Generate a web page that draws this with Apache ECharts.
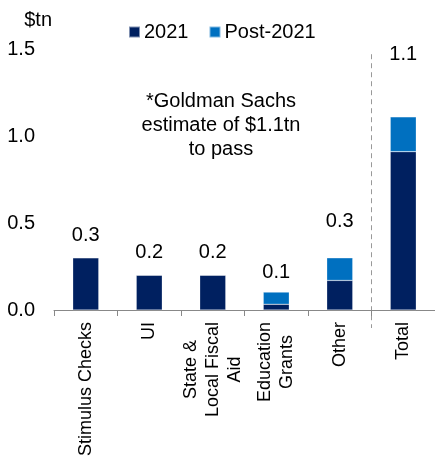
<!DOCTYPE html>
<html>
<head>
<meta charset="utf-8">
<script src="https://cdn.jsdelivr.net/npm/echarts@6/dist/echarts.min.js"></script>
<style>
html,body{margin:0;padding:0;background:#fff;}
#c{width:435px;height:462px;}
</style>
</head>
<body>
<div id="c"></div>
<script>
const categories = ['Stimulus Checks', 'UI', 'State &\nLocal Fiscal\nAid', 'Education\nGrants', 'Other', 'Total'];
const values2021 = [0.30, 0.20, 0.20, 0.033, 0.17, 0.91];
const valuesPost = [0.00, 0.00, 0.00, 0.07, 0.13, 0.20];
const totalLabels = ['0.3', '0.2', '0.2', '0.1', '0.3', '1.1'];
const yTicks = [0, 0.5, 1.0, 1.5];
const seriesNames = ['2021', 'Post-2021'];

const FONT = '"Liberation Sans", Arial, sans-serif';
const DARK = '#002060';
const LIGHT = '#0070C0';
const labelLift = [12, 13, 13, 10, 26, 52];

const chart = echarts.init(document.getElementById('c'), null, {renderer: 'canvas'});
const option = {
  animation: false,
  backgroundColor: '#fff',
  textStyle: {fontFamily: FONT},
  title: {
    text: '*Goldman Sachs\nestimate of $1.1tn\nto pass',
    left: 221, top: 89, padding: 0, textAlign: 'center',
    textStyle: {fontFamily: FONT, fontSize: 20, fontWeight: 'normal', color: '#000', lineHeight: 24}
  },
  legend: {
    data: seriesNames,
    left: 128, top: 22, padding: 0,
    icon: 'rect', itemWidth: 11, itemHeight: 11, itemGap: 20,
    textStyle: {fontFamily: FONT, fontSize: 20, color: '#000', padding: [0, 0, 0, -1]}
  },
  grid: {left: 54, right: -3, top: 49, bottom: 152, containLabel: false},
  xAxis: {
    type: 'category',
    data: categories,
    axisLine: {show: true, lineStyle: {color: '#888', width: 1}},
    axisTick: {show: true, length: 6, inside: false, lineStyle: {color: '#888'}},
    axisLabel: {
      interval: 0, rotate: 90, margin: 12,
      formatter: v => v.split('\n').map(s => '{c|' + s + '}').join('\n'),
      rich: {c: {align: 'center', fontFamily: FONT, fontSize: 18, lineHeight: 22, color: '#000'}}
    }
  },
  yAxis: {
    type: 'value',
    min: yTicks[0], max: yTicks[yTicks.length - 1], interval: yTicks[1] - yTicks[0],
    name: '$tn', nameLocation: 'end', nameGap: 19,
    nameTextStyle: {fontFamily: FONT, fontSize: 20, color: '#000', align: 'right', padding: [0, 2, 0, 0]},
    axisLine: {show: false}, axisTick: {show: false},
    splitLine: {show: false},
    axisLabel: {fontFamily: FONT, fontSize: 20, color: '#000', margin: 19, formatter: v => v.toFixed(1)}
  },
  series: [
    {
      name: seriesNames[0], type: 'bar', stack: 's', barWidth: 26,
      itemStyle: {color: DARK, borderColor: 'rgba(255,255,255,0.5)', borderWidth: 0.5},
      data: values2021
    },
    {
      name: seriesNames[1], type: 'bar', stack: 's', barWidth: 26,
      itemStyle: {color: LIGHT, borderColor: 'rgba(255,255,255,0.5)', borderWidth: 0.5},
      data: valuesPost
    },
    {
      name: 'labels', type: 'bar', stack: 's', barWidth: 26,
      itemStyle: {color: 'rgba(0,0,0,0)'},
      data: totalLabels.map((t, i) => ({
        value: 0,
        label: {show: true, position: 'top', distance: 0, offset: [0, -labelLift[i]],
          formatter: () => t, fontFamily: FONT, fontSize: 20, color: '#000'}
      })),
      silent: true
    }
  ]
};
chart.setOption(option);

const pA = chart.convertToPixel({xAxisIndex: 0, yAxisIndex: 0}, [4, 0]);
const pB = chart.convertToPixel({xAxisIndex: 0, yAxisIndex: 0}, [5, 1.47]);
const xDiv = (pA[0] + pB[0]) / 2;
chart.setOption({
  graphic: [{
    type: 'line', silent: true,
    shape: {x1: xDiv, y1: pB[1], x2: xDiv, y2: pA[1] + 18},
    style: {stroke: '#999', lineWidth: 1, lineDash: [5, 4]}
  }]
});
</script>
</body>
</html>
